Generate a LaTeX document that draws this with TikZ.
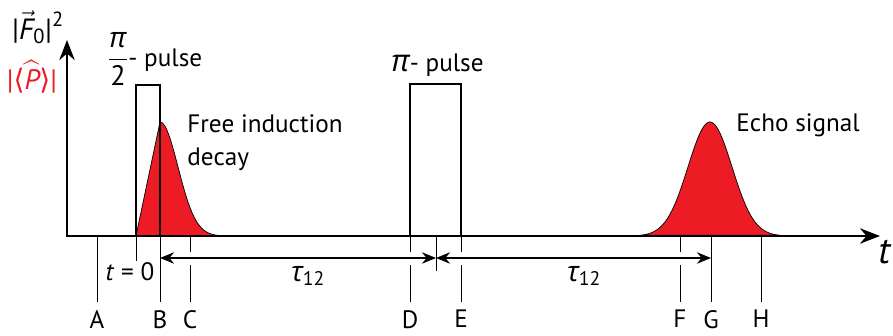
\RequirePackage{fix-cm}
\documentclass[tikz,border=0pt]{standalone}
\usepackage{amsmath}
\usepackage{fontspec}
\setmainfont{PT Sans}
\newfontfamily\grk{Open Sans}
\newfontfamily\sym{DejaVu Sans}
\usetikzlibrary{arrows.meta,positioning}
\definecolor{sigc}{HTML}{ED1C24}
\newcommand{\gpi}{{\grk\itshape π}}
\newcommand{\gtau}{{\grk\itshape τ}\textsubscript{12}}
\tikzset{
  ax/.style={line width=2.4pt,line join=miter,{Stealth[length=6mm,width=4.6mm]}-{Stealth[length=6mm,width=4.6mm]}},
  tk/.style={line width=0.8pt},
  pl/.style={line width=0.9pt},
  dm/.style={line width=1.6pt,{Stealth[length=4.2mm,width=3.4mm]}-{Stealth[length=4.2mm,width=3.4mm]}},
  sg/.style={fill=sigc,draw=black,line width=0.6pt},
  lt/.style={font=\fontsize{21.5}{28}\selectfont,inner sep=1pt},
  mt/.style={font=\fontsize{24}{28}\selectfont,inner sep=1pt},
  lb/.style={lt,inner ysep=6.8pt,anchor=north}
}

\begin{document}
\begin{tikzpicture}[x=0.03cm,y=0.03cm]
\useasboundingbox (0,0) rectangle (893,336);
% signals
\path[sg] (136,100) -- (160,214) -- plot[domain=160:232,samples=60] (\x,{100+114*exp(-((\x-160)/18)^2/2)}) -- cycle;
\path[sg] plot[domain=640:780,samples=80] (\x,{100+114*exp(-((\x-710)/22)^2/2)}) -- cycle;
% pulses
\draw[pl] (136,100) rectangle (160,251);
\draw[pl] (410,100) rectangle (461,252);
% axes
\coordinate (O) at (67,100);
\coordinate (tend) at (880,100);
\coordinate (yend) at (67,296);
\draw[ax] (yend) -- (O) -- (tend);
% time marks
\coordinate (gapt) at (0,84);
\coordinate (gapb) at (0,71);
\coordinate (dimy) at (0,78);
\coordinate (t0) at (136,100);
\coordinate (mid) at (436,100);
\foreach \px/\nm in {97/A,160/B,190/C,410/D,461/E,680/F,711/G,761/H}
  \node[lb] (\nm) at (\px,34) {\nm};
\foreach \nm in {A,B,G,H}
  \draw[tk] (\nm|-O) -- (\nm.north);
\foreach \nm in {C,D,E,F}{
  \draw[tk] (\nm|-O) -- (\nm|-gapt);
  \draw[tk] (\nm|-gapb) -- (\nm.north);}
\node[lt] (tzero) at (130,64) {\textit{t} = 0};
\draw[tk] (t0) -- (t0|-tzero.north);
\draw[tk] (mid) -- ++(0,-35);
\draw[dm] (B|-dimy) -- (mid|-dimy);
\draw[dm] (mid|-dimy) -- (G|-dimy);
\node[mt] (tau1) at (308,60) {\gtau};
\node[mt] (tau2) at (584,60) {\gtau};
% labels
\node[mt] (hfrac) at (118,277) {$\displaystyle\frac{\text{\gpi}}{\text{2}}$};
\node[lt,anchor=base west] (hpulse) at (127,269) {- pulse};
\node[lt,anchor=base west] (fpulse) at (390,264) {{\fontsize{26}{30}\selectfont\gpi}- pulse};
\node[lt,anchor=north west,align=left] (fid) at (186,223) {Free induction\\decay};
\node[lt,anchor=base west] (echo) at (735,204) {Echo signal};
\node[font=\fontsize{25}{30}\selectfont,inner sep=0pt] (ylab) at (38,309) {$\text{|}\vec{\text{\itshape F}}_{\text{0}}\text{|}^{\text{2}}$};
\node[font=\fontsize{24}{28}\selectfont,inner sep=0pt,text=sigc] (plab) at (32,259) {|{\sym ⟨}$\widehat{\text{\itshape P}}${\sym ⟩}|};
\node[font=\fontsize{32}{36}\selectfont] (tlab) at (885,84) {\textit{t}};
\end{tikzpicture}
\end{document}
